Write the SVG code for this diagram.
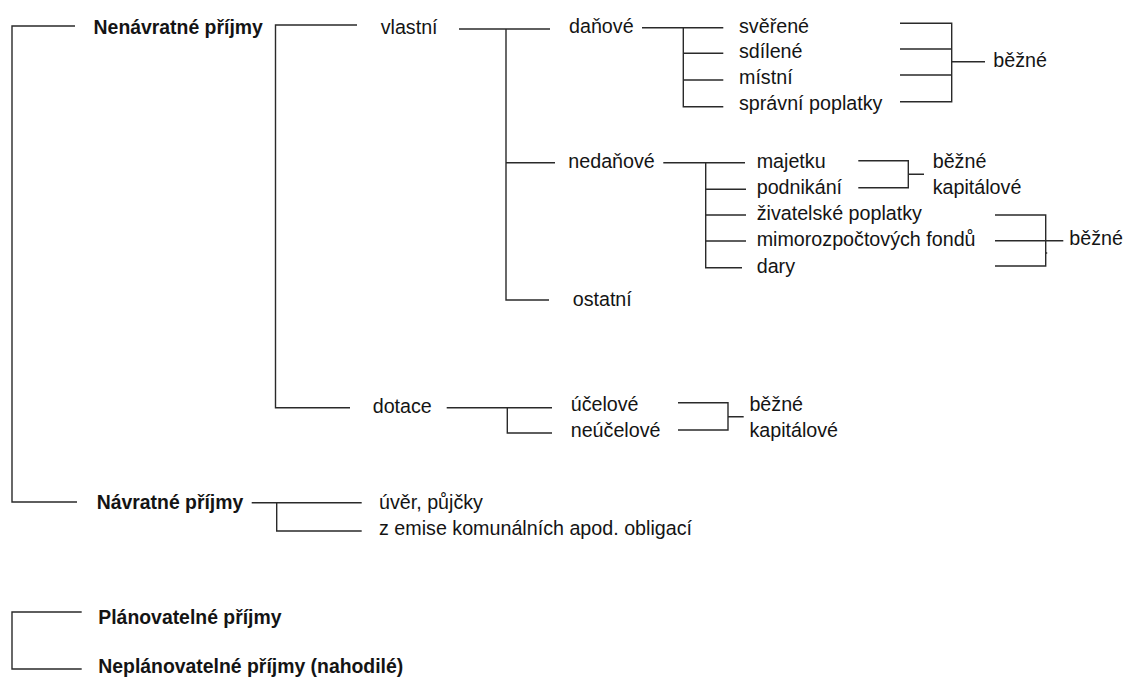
<svg xmlns="http://www.w3.org/2000/svg" width="1125" height="678" viewBox="0 0 1125 678">
<style>
text{font-family:"Liberation Sans",Arial,sans-serif;fill:#141414;font-size:19.7px}
.b{font-weight:bold;font-size:19.4px}
.c path{fill:none;stroke:#2a2a2a;stroke-width:1.4}
</style>
<rect width="1125" height="678" fill="#fff"/>
<g class="c" id="connectors">
<path d="M75,26 H12 V502 H77"/>
<path d="M357,25 H275.5 V407.7 H350"/>
<path d="M459,29 H550"/>
<path d="M506,29 V300 H549 M506,162.7 H555"/>
<path d="M642,27.7 H723.3 M683.3,27.7 V106.7 H723.3 M683.3,53.3 H723.3 M683.3,80 H723.3"/>
<path d="M900,23.3 H951.7 V101.7 H900 M900,49 H951.7 M900,75 H951.7 M951.7,61.7 H985"/>
<path d="M663.3,162.7 H745 M705.7,162.7 V267.7 H742 M705.7,189.3 H746 M705.7,215 H746 M705.7,241 H746"/>
<path d="M858.3,160.7 H908.3 V187.7 H858.3 M908.3,174.3 H924"/>
<path d="M995,215 H1045.7 V266 H995 M995,240.7 H1063.3 M1045.7,253 h1.5"/>
<path d="M446.7,407.7 H552 M507.3,407.7 V433 H552"/>
<path d="M678,402.7 H728 V430 H678 M728,416.7 H743.7"/>
<path d="M251.7,502.7 H361.7 M276.7,502.7 V531 H361.7"/>
<path d="M81.7,612 H12 V669 H81.7"/>
</g>
<g id="n-nenavratne"><text class="b" x="93.6" y="33.5">Nenávratné příjmy</text></g>
<g id="n-vlastni"><text x="380.7" y="34.3">vlastní</text></g>
<g id="n-danove"><text x="569" y="32.7">daňové</text></g>
<g id="n-sverene"><text x="739" y="32.7">svěřené</text></g>
<g id="n-sdilene"><text x="739" y="58.3">sdílené</text></g>
<g id="n-mistni"><text x="739" y="84">místní</text></g>
<g id="n-spravni"><text x="739" y="110">správní poplatky</text></g>
<g id="n-bezne1"><text x="993.3" y="66.7">běžné</text></g>
<g id="n-nedanove"><text x="568.3" y="168">nedaňové</text></g>
<g id="n-majetku"><text x="756.7" y="167.7">majetku</text></g>
<g id="n-podnikani"><text x="756.7" y="194">podnikání</text></g>
<g id="n-zivatelske"><text x="756.7" y="220">živatelské poplatky</text></g>
<g id="n-mimorozpoctovych"><text x="756.7" y="246">mimorozpočtových fondů</text></g>
<g id="n-dary"><text x="756.7" y="272.7">dary</text></g>
<g id="n-bezne2"><text x="932.7" y="168.3">běžné</text></g>
<g id="n-kapitalove2"><text x="932.7" y="194">kapitálové</text></g>
<g id="n-bezne3"><text x="1069.3" y="245">běžné</text></g>
<g id="n-ostatni"><text x="572.7" y="306">ostatní</text></g>
<g id="n-dotace"><text x="372.7" y="412.5">dotace</text></g>
<g id="n-ucelove"><text x="570.7" y="411">účelové</text></g>
<g id="n-neucelove"><text x="570.7" y="436.7">neúčelové</text></g>
<g id="n-bezne4"><text x="749.4" y="411">běžné</text></g>
<g id="n-kapitalove4"><text x="749.4" y="436.7">kapitálové</text></g>
<g id="n-navratne"><text class="b" x="96.7" y="508.5">Návratné příjmy</text></g>
<g id="n-uver"><text x="379" y="509">úvěr, půjčky</text></g>
<g id="n-emise"><text x="379" y="535">z emise komunálních apod. obligací</text></g>
<g id="n-planovatelne"><text class="b" x="98.3" y="624">Plánovatelné příjmy</text></g>
<g id="n-neplanovatelne"><text class="b" x="98.3" y="673">Neplánovatelné příjmy (nahodilé)</text></g>
</svg>
